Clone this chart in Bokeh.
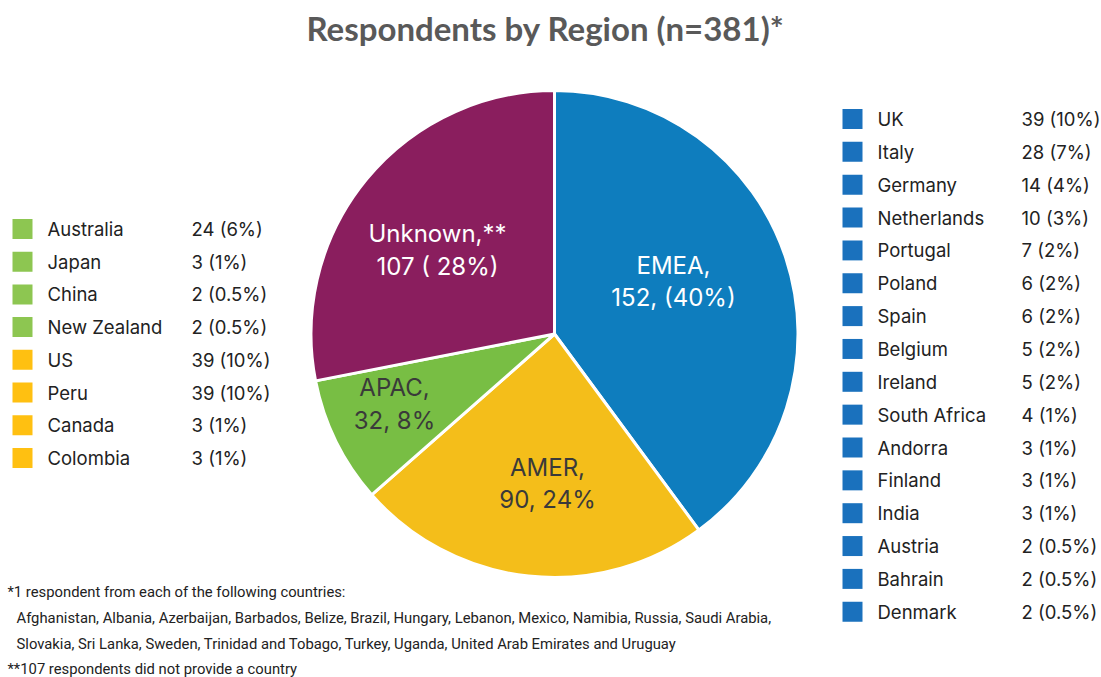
import numpy as np
from bokeh.plotting import figure
from bokeh.models import Range1d, ColumnDataSource
from bokeh.core.properties import value
from bokeh.embed import file_html
from bokeh.resources import INLINE

# ---------------- data ----------------
regions = ["EMEA", "AMER", "APAC", "Unknown"]
region_counts = [152, 90, 32, 107]
region_labels_1 = ["EMEA,", "AMER,", "APAC,", "Unknown,**"]
region_labels_2 = ["152, (40%)", "90, 24%", "32, 8%", "107 ( 28%)"]
region_colors = ["#0E7DBE", "#F4BE1A", "#78BE44", "#8A1E5E"]
region_text_colors = ["white", "#3a3a3a", "#3a3a3a", "white"]

left_countries = ["Australia", "Japan", "China", "New Zealand", "US", "Peru", "Canada", "Colombia"]
left_values = ["24 (6%)", "3 (1%)", "2 (0.5%)", "2 (0.5%)", "39 (10%)", "39 (10%)", "3 (1%)", "3 (1%)"]
left_groups = ["APAC", "APAC", "APAC", "APAC", "AMER", "AMER", "AMER", "AMER"]

right_countries = ["UK", "Italy", "Germany", "Netherlands", "Portugal", "Poland", "Spain", "Belgium",
                   "Ireland", "South Africa", "Andorra", "Finland", "India", "Austria", "Bahrain", "Denmark"]
right_values = ["39 (10%)", "28 (7%)", "14 (4%)", "10 (3%)", "7 (2%)", "6 (2%)", "6 (2%)", "5 (2%)",
                "5 (2%)", "4 (1%)", "3 (1%)", "3 (1%)", "3 (1%)", "2 (0.5%)", "2 (0.5%)", "2 (0.5%)"]

legend_colors = {"APAC": "#8DC651", "AMER": "#FFC011", "EMEA": "#1A71BD"}

title = "Respondents by Region (n=381)*"
footnotes = [
    "*1 respondent from each of the following countries:",
    "Afghanistan, Albania, Azerbaijan, Barbados, Belize, Brazil, Hungary, Lebanon, Mexico, Namibia, Russia, Saudi Arabia,",
    "Slovakia, Sri Lanka, Sweden, Trinidad and Tobago, Turkey, Uganda, United Arab Emirates and Uruguay",
    "**107 respondents did not provide a country",
]

# ---------------- figure ----------------
W, H = 1101, 677
p = figure(width=W, height=H, output_backend="svg", toolbar_location=None,
           x_range=Range1d(0, W), y_range=Range1d(-H, 0),
           min_border=0, outline_line_color=None)
p.axis.visible = False
p.grid.visible = False
p.background_fill_color = "white"
p.border_fill_color = "white"

FONT = value("Inter")

# title
p.text(x=[545], y=[-27], text=[title], text_font=value("Lato"), text_font_style="bold",
       text_font_size="33px", text_color="#595959", text_align="center", text_baseline="middle")

# pie
cx, cy, r = 554, -333.5, 243.5
counts = np.array(region_counts, dtype=float)
fr = counts / counts.sum() * 2 * np.pi
ends = np.cumsum(fr)
starts = ends - fr
src = ColumnDataSource(dict(start=np.pi / 2 - starts, end=np.pi / 2 - ends, color=region_colors))
p.wedge(x=cx, y=cy, radius=r, start_angle="start", end_angle="end", direction="clock",
        fill_color="color", line_color="white", line_width=3, source=src)

# pie labels
lab_pos = {"EMEA": (673, 265, 297), "AMER": (547, 467, 499), "APAC": (394, 387, 420),
           "Unknown": (437, 233, 266)}
for reg, l1, l2, tc in zip(regions, region_labels_1, region_labels_2, region_text_colors):
    x, y1, y2 = lab_pos[reg]
    p.text(x=[x, x], y=[-y1, -y2], text=[l1, l2], text_font=FONT, text_font_size="24px",
           text_color=tc, text_align="center", text_baseline="middle")

# legends
def legend(names, vals, groups, x_sq, x_name, x_val, y0, dy):
    n = len(names)
    ys = [-(y0 + i * dy) for i in range(n)]
    cols = [legend_colors[g] for g in groups]
    p.rect(x=[x_sq] * n, y=ys, width=20, height=20, fill_color=cols, line_color=None)
    p.text(x=[x_name] * n, y=ys, text=names, text_font=FONT, text_font_size="18.5px",
           text_color="#222222", text_align="left", text_baseline="middle")
    p.text(x=[x_val] * n, y=ys, text=vals, text_font=FONT, text_font_size="18.5px",
           text_color="#222222", text_align="left", text_baseline="middle")

legend(left_countries, left_values, left_groups, 22, 47, 191, 228.5, 32.7)
legend(right_countries, right_values, ["EMEA"] * len(right_countries), 852, 877, 1021, 118.5, 32.85)

# footnotes
p.text(x=[7, 16, 16, 7], y=[-591, -617, -643, -668], text=footnotes, text_font=value("Roboto"),
       text_font_size="14.8px", text_color="#222222", text_align="left", text_baseline="middle")

open("out.html", "w").write(file_html(p, INLINE))
